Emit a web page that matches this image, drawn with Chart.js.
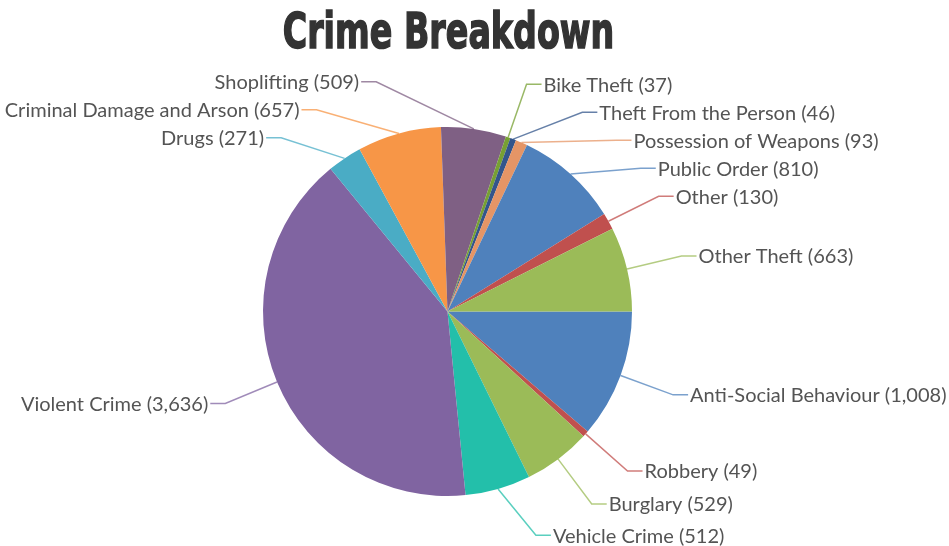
<!DOCTYPE html>
<html>
<head>
<meta charset="utf-8">
<script src="https://cdn.jsdelivr.net/npm/chart.js@4/dist/chart.umd.min.js"></script>
<style>
  html, body { margin: 0; padding: 0; background: #fff; }
  #wrap { width: 949px; height: 546px; position: relative; }
</style>
</head>
<body>
<div id="wrap"><canvas id="c" width="949" height="546"></canvas></div>
<script>
// ---- data ----
const chartTitle = "Crime Breakdown";
const categories = [
  "Anti-Social Behaviour", "Robbery", "Burglary", "Vehicle Crime", "Violent Crime",
  "Drugs", "Criminal Damage and Arson", "Shoplifting", "Bike Theft",
  "Theft From the Person", "Possession of Weapons", "Public Order", "Other", "Other Theft"
];
const values = [1008, 49, 529, 512, 3636, 271, 657, 509, 37, 46, 93, 810, 130, 663];
const palette = ["#4F81BC", "#C0504E", "#9BBB58", "#23BFAA", "#8064A1", "#4AACC5",
  "#F79647", "#7F6084", "#77A033", "#33558B", "#E59566"];

const sliceColors = values.map((v, i) => palette[i % palette.length]);

function hexToRgba(hex, a) {
  const n = parseInt(hex.slice(1), 16);
  return `rgba(${(n >> 16) & 255},${(n >> 8) & 255},${n & 255},${a})`;
}

const LABEL_FONT = "20px 'Lato', 'Noto Sans', sans-serif";

// title drawn condensed (Impact-like) in the space above the chart area
const condensedTitle = {
  id: 'condensedTitle',
  afterDraw(chart) {
    const ctx = chart.ctx;
    const area = chart.chartArea;
    ctx.save();
    ctx.font = "bold 49px 'DejaVu Sans', sans-serif";
    ctx.fillStyle = '#333333';
    ctx.textAlign = 'center';
    ctx.textBaseline = 'alphabetic';
    const sx = 0.68;
    ctx.translate((area.left + area.right) / 2 + 1, 48);
    ctx.scale(sx, 1);
    ctx.lineWidth = 1.6;
    ctx.strokeStyle = '#333333';
    ctx.fillText(chartTitle, 0, 0);
    ctx.strokeText(chartTitle, 0, 0);
    ctx.restore();
  }
};

const pieLabels = {
  id: 'pieLabels',
  afterDatasetsDraw(chart) {
    const ctx = chart.ctx;
    const meta = chart.getDatasetMeta(0);
    const arcs = meta.data;
    if (!arcs.length) return;
    const cx = arcs[0].x, cy = arcs[0].y, r = arcs[0].outerRadius;
    const R = r + 56;
    const minY = cy - R * 0.955, maxY = cy + R * 0.93;
    const gap = 28;
    const items = arcs.map((a, i) => {
      const mid = (a.startAngle + a.endAngle) / 2;
      return { i, mid, cos: Math.cos(mid), sin: Math.sin(mid) };
    });
    const topRight = items.filter(o => o.sin < 0 && o.cos >= 0.2).length;
    const topLeft = items.filter(o => o.sin < 0 && o.cos <= -0.2).length;
    const botRight = items.filter(o => o.sin >= 0 && o.cos >= 0.2).length;
    const botLeft = items.filter(o => o.sin >= 0 && o.cos <= -0.2).length;
    items.forEach(o => {
      if (Math.abs(o.cos) < 0.2) {
        if (o.sin < 0) o.right = topRight <= topLeft;
        else o.right = botRight <= botLeft;
      } else o.right = o.cos >= 0;
      o.y = cy + R * o.sin;
    });
    [true, false].forEach(side => {
      const list = items.filter(o => o.right === side).sort((a, b) => a.y - b.y);
      for (let k = 0; k < list.length; k++) {
        if (list[k].y < minY) list[k].y = minY;
        if (k > 0 && list[k].y < list[k - 1].y + gap) list[k].y = list[k - 1].y + gap;
      }
      for (let k = list.length - 1; k >= 0; k--) {
        if (list[k].y > maxY) list[k].y = maxY;
        if (k < list.length - 1 && list[k].y > list[k + 1].y - gap) list[k].y = list[k + 1].y - gap;
      }
      list.forEach(o => {
        const dy = o.y - cy;
        const dx = Math.sqrt(Math.max(0, R * R - dy * dy));
        o.x = side ? cx + dx : cx - dx;
      });
    });
    ctx.save();
    ctx.font = LABEL_FONT;
    ctx.textBaseline = 'middle';
    items.forEach(o => {
      const ax = cx + r * o.cos, ay = cy + r * o.sin;
      const dir = o.right ? 1 : -1;
      const ex = o.x + dir * 15;
      ctx.strokeStyle = hexToRgba(sliceColors[o.i], 0.75);
      ctx.lineWidth = 1.5;
      ctx.beginPath();
      ctx.moveTo(ax, ay);
      ctx.lineTo(o.x, o.y);
      ctx.lineTo(ex, o.y);
      ctx.stroke();
      ctx.fillStyle = '#545454';
      ctx.textAlign = o.right ? 'left' : 'right';
      const txt = categories[o.i] + ' (' + values[o.i].toLocaleString('en-US') + ')';
      ctx.fillText(txt, ex + dir * 2, o.y + 1);
    });
    ctx.restore();
  }
};

new Chart(document.getElementById('c'), {
  type: 'pie',
  data: {
    labels: categories,
    datasets: [{
      data: values,
      backgroundColor: sliceColors,
      borderWidth: 0,
      hoverOffset: 0
    }]
  },
  options: {
    responsive: false,
    animation: false,
    rotation: 90,
    layout: { padding: { left: 0, right: 54, top: 127, bottom: 50 } },
    plugins: {
      legend: { display: false },
      tooltip: { enabled: false },
      title: { display: false }
    }
  },
  plugins: [pieLabels, condensedTitle]
});
</script>
</body>
</html>
